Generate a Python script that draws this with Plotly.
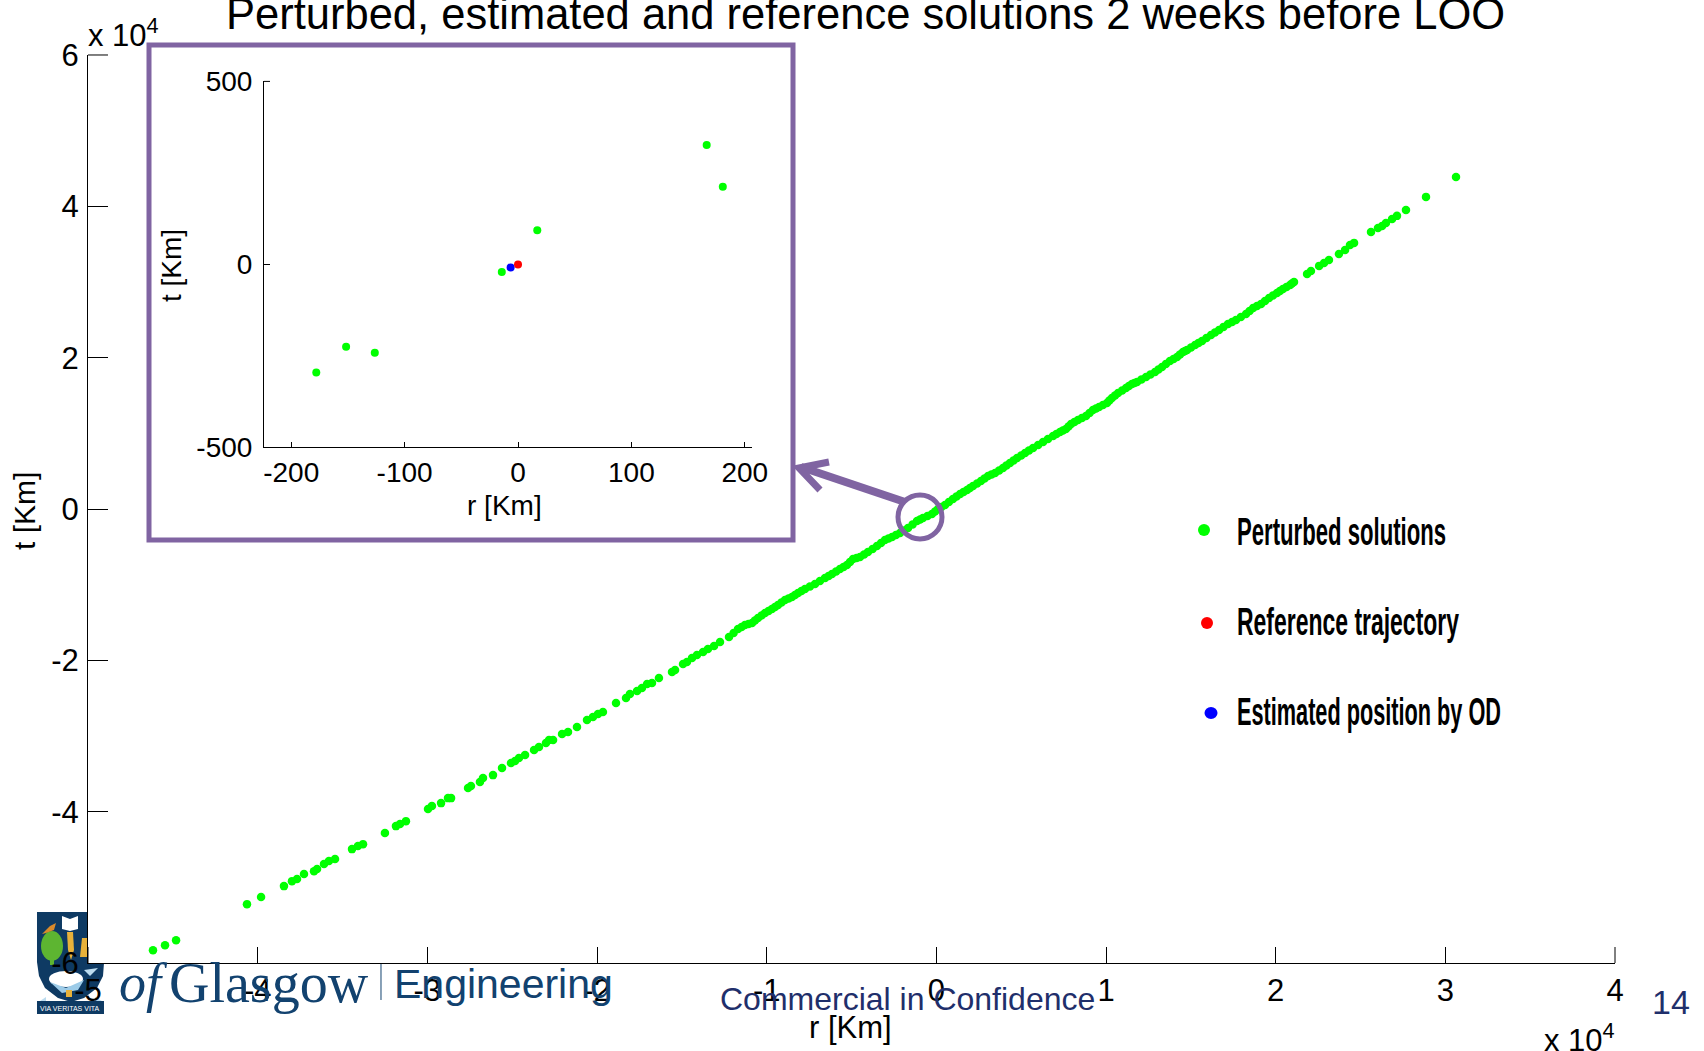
import plotly.graph_objects as go

W, H = 1704, 1051
TITLE = "Perturbed, estimated and reference solutions 2 weeks before LOO"

# Main panel: perturbed solutions, km
perturbed_r = [-46170,-45460,-44810,-40630,-39800,-38450,-37980,-37680,-37270,-36680,-36500,-36090,-35800,-35440,
 -34440,-34090,-33790,-32500,-31850,-31610,-31260,-29960,-29730,-29190,-28780,-28600,-27600,-27430,-26900,-26720,
 -26130,-25600,-25070,-24830,-24600,-24240,-23710,-23420,-23010,-22830,-22590,-22060,-21710,-21180,-20590,-20240,
 -19940,-19650,-18880,-18290,-18060,-17640,-17350,-17050,-16760,-16350,-15580,-15400,-14930,-14700,-14400,-14110,
 -13750,-13460,-13100,-12750,-12220,-11690,-11280,-10860,-10510,-10100,-9690,-9330,-8920,-8510,-8150,-7740,-7150,
 -6560,-6150,-5680,-5270,-4910,-4500,-4030,-3500,-3030,-2610,-2140,-1670,-1140,-790,-260,100,510,980,1400,1810,
 2160,2630,3050,3460,3930,4340,4760,5230,5700,6290,6880,7290,7640,7940,8350,8820,9230,9590,10060,10350,10710,
 11180,11530,11830,12360,12890,13300,13770,14190,14540,14780,15250,15660,16190,16660,17190,17660,18250,18670,
 19140,19610,20080,20430,20850,21080,21850,22080,22560,22850,23140,23730,24090,24380,24620,25620,26030,26270,
 26500,26860,27150,27680,28860,30630]
perturbed_t = [-58300,-57640,-56980,-52220,-51290,-49840,-49180,-48910,-48250,-47860,-47590,-46930,-46530,-46270,
 -44950,-44550,-44290,-42830,-41910,-41640,-41250,-39660,-39260,-38870,-38210,-38210,-36880,-36620,-36090,-35560,
 -35170,-34240,-33580,-33310,-32920,-32520,-31860,-31460,-30930,-30540,-30540,-29740,-29480,-28820,-27890,-27500,
 -27100,-26840,-25650,-24990,-24460,-24060,-23660,-23130,-23000,-22340,-21550,-21280,-20490,-20230,-19700,-19300,
 -18900,-18510,-18110,-17580,-16920,-15860,-15330,-15070,-14410,-13750,-13220,-12690,-12030,-11630,-11100,-10580,
 -9910,-9120,-8590,-7930,-7400,-6610,-6350,-5680,-4890,-4100,-3700,-3170,-2510,-1590,-1190,-660,0,530,1320,1980,
 2510,3040,3700,4360,4760,5420,6080,6740,7400,8060,8860,9650,10180,10580,11240,11770,12300,13090,13490,14010,
 14670,15340,16000,16530,16790,17450,18110,18770,19570,20100,20760,21020,21680,22210,23000,23660,24460,24990,
 25780,26570,27100,27890,28560,29080,29610,30010,31070,31460,32130,32520,32920,33710,34240,34900,35170,36620,
 37150,37410,37810,38340,38740,39530,41250,43890]

# Further solutions in the unbroken central band, km
band_r = [-11950,-11480,-11070,-10690,-10300,-9890,-9510,-9130,-8710,-8330,-7950,-7450,-6860,-6350,-5910,-5470,
 -5090,-4700,-4260,-3760,-3260,-2820,-2380,-1900,-1400,-960,-520,-80,300,740,1190,1600,1980,2400,2840,3250,3700,
 4130,4550,5000,5460,6000,6580,7080,7460,7790,8140,8580,9030,9410,9820,10200,10530,10950,11350,11680,12090,12620,
 13090,13530,13980,14360,14660,15010,15450,15920,16420,16920,17430,17950,18460,18900,19370,19840,20250,20640,20960]
band_t = [-16390,-15600,-15200,-14740,-14080,-13480,-12950,-12360,-11830,-11360,-10840,-10240,-9510,-8850,-8260,-7660,
 -7000,-6480,-6010,-5280,-4490,-3900,-3430,-2840,-2050,-1390,-920,-330,260,920,1650,2240,2770,3370,4030,4560,5090,
 5750,6410,7070,7730,8460,9250,9910,10380,10910,11500,12030,12690,13290,13750,14340,15000,15670,16260,16660,17120,17780,
 18440,19170,19830,20430,20890,21350,21940,22600,23330,24060,24720,25380,26170,26830,27500,28220,28820,29340,29810]

# Inset: zoom near the origin, km
inset_r = [-177.9,-151.6,-126.3,-14.3,17.0,166.4,180.6]
inset_t = [-296,-226,-242,-21.5,93,326,212]
reference_r = [0.0]
reference_t = [-1]
estimated_r = [-6.5]
estimated_t = [-9]

main_x_ticks = [-50000,-40000,-30000,-20000,-10000,0,10000,20000,30000,40000]
main_x_labels = ["-5","-4","-3","-2","-1","0","1","2","3","4"]
main_y_ticks = [-60000,-40000,-20000,0,20000,40000,60000]
main_y_labels = ["-6","-4","-2","0","2","4","6"]
inset_x_ticks = [-200,-100,0,100,200]
inset_x_labels = ["-200","-100","0","100","200"]
inset_y_ticks = [-500,0,500]
inset_y_labels = ["-500","0","500"]
legend_labels = ["Perturbed solutions","Reference trajectory","Estimated position by OD"]

GREEN, RED, BLUE = "#00FF00", "#FF0000", "#0000FF"
PURPLE, NAVY, LOGO = "#8064A2", "#1F2F6B", "#12426F"
SANS = "Liberation Sans"

def px(x): return x / W
def py(y): return 1 - y / H
def path(points, close=True):
    d = "M " + " L ".join(f"{px(x):.5f},{py(y):.5f}" for x, y in points)
    return d + (" Z" if close else "")
def poly(points, fill, line=None, lw=0, close=True, layer="below"):
    return dict(type="path", xref="paper", yref="paper", path=path(points, close), layer=layer,
                fillcolor=fill if close else "rgba(0,0,0,0)",
                line=dict(color=line or "rgba(0,0,0,0)", width=lw))
def oval(cx, cy, rx, ry, fill, line=None, lw=0, layer="below"):
    return dict(type="circle", xref="paper", yref="paper", x0=px(cx-rx), x1=px(cx+rx), y0=py(cy+ry), y1=py(cy-ry),
                fillcolor=fill, line=dict(color=line or "rgba(0,0,0,0)", width=lw), layer=layer)
def text(x, y, s, size, color="black", family=SANS, anchor="center", angle=0, weight=None):
    font = dict(size=size, color=color, family=family)
    if weight: font["weight"] = weight
    return dict(xref="x3", yref="y3", x=x, y=y, text=s, showarrow=False, textangle=angle,
                font=font, xanchor=anchor, yanchor="middle", align="left")

fig = go.Figure()
fig.add_trace(go.Scatter(x=[], y=[], xaxis="x3", yaxis="y3", showlegend=False, hoverinfo="skip"))
fig.add_trace(go.Scatter(x=perturbed_r + band_r, y=perturbed_t + band_t, mode="markers", name="Perturbed solutions",
                         marker=dict(color=GREEN, size=8.5), xaxis="x", yaxis="y", showlegend=False))
fig.add_trace(go.Scatter(x=inset_r, y=inset_t, mode="markers", name="Perturbed solutions (zoom)",
                         marker=dict(color=GREEN, size=8), xaxis="x2", yaxis="y2", showlegend=False))
fig.add_trace(go.Scatter(x=estimated_r, y=estimated_t, mode="markers", name="Estimated position by OD",
                         marker=dict(color=BLUE, size=8), xaxis="x2", yaxis="y2", showlegend=False))
fig.add_trace(go.Scatter(x=reference_r, y=reference_t, mode="markers", name="Reference trajectory",
                         marker=dict(color=RED, size=8), xaxis="x2", yaxis="y2", showlegend=False))

shield = [(37,912),(88,912),(88,963),(104,963),(103,976),(97,988),(84,998),(71,1002),(58,998),(45,988),(39,976),(37,962)]
shapes = [
    poly(shield, "#0E3A63"),
    oval(52,946,11,15,"#5DB531"),
    poly([(50,955),(54,955),(54,965),(50,965)], "#5DB531"),
    poly([(62,916),(70,919),(78,916),(78,929),(70,931),(62,929)], "#FFFFFF"),
    poly([(42,934),(50,926),(56,923),(54,930),(46,933)], "#D98A2B"),
    poly([(67,932),(73,932),(74,950),(71,960),(68,950)], "#E8B23A"),
    poly([(82,938),(87,938),(88,957),(80,957)], "#E8B23A"),
    oval(66,979,17,8,"#FFFFFF"),
    poly([(50,982),(66,988),(84,980),(78,990),(62,993)], "#9CCBE8"),
    poly([(84,970),(98,968),(90,976)], "#BCDCEF"),
    poly([(66,990),(72,990),(72,997),(66,997)], "#E8B23A"),
    poly([(37,1001),(104,1001),(104,1014),(37,1014)], "#0E3A63"),
    poly([(40,1001),(46,997),(46,1001)], "#BCDCEF"),
    poly([(95,1001),(95,997),(102,1001)], "#BCDCEF"),
    poly([(381,964),(381,1000)], "rgba(0,0,0,0)", line=LOGO, lw=1, close=False),
    # Ticks at the very ends of the axes
    poly([(88,55),(108,55)], "rgba(0,0,0,0)", line="black", lw=1, close=False, layer="above"),
    poly([(1615,963),(1615,947)], "rgba(0,0,0,0)", line="black", lw=1, close=False, layer="above"),
    poly([(88,963),(88,947)], "rgba(0,0,0,0)", line="black", lw=1, close=False, layer="above"),
    poly([(264,81.4),(270,81.4)], "rgba(0,0,0,0)", line="black", lw=1, close=False, layer="above"),
    dict(type="rect", xref="paper", yref="paper", x0=px(149), x1=px(793), y0=py(540), y1=py(45),
         line=dict(color=PURPLE, width=5), layer="above"),
    oval(920,517,22,22,"rgba(0,0,0,0)",line=PURPLE,lw=5,layer="above"),
    poly([(905,502),(801,467)], "rgba(0,0,0,0)", line=PURPLE, lw=8, close=False, layer="above"),
    poly([(829,462),(799,468),(820,490)], "rgba(0,0,0,0)", line=PURPLE, lw=7, close=False, layer="above"),
    oval(1204,530,6,6,GREEN,layer="above"),
    oval(1207,623,6,6,RED,layer="above"),
    oval(1211,713,6.5,6,BLUE,layer="above"),
]

annotations = [
    text(865, 14, TITLE, 43.5),
    text(123, 33, "x 10<sup>4</sup>", 31),
    text(1579, 1038, "x 10<sup>4</sup>", 31),
    text(850, 1027, "r [Km]", 31),
    text(24, 511, "t [Km]", 30, angle=-90),
    text(504, 505, "r [Km]", 28),
    text(171, 266, "t [Km]", 28, angle=-90),
    text(1235, 532, legend_labels[0], 38, anchor="left", weight=700),
    text(1235, 622, legend_labels[1], 38, anchor="left", weight=700),
    text(1235, 712, legend_labels[2], 38, anchor="left", weight=700),
    text(143, 983, "<i>of</i>", 54, LOGO, "Liberation Serif"),
    text(269, 983, "Glasgow", 56, LOGO, "Liberation Serif"),
    text(503, 984, "Engineering", 41, LOGO),
    text(70, 1008, "VIA VERITAS VITA", 7, "#FFFFFF"),
    text(907, 999, "Commercial in Confidence", 32, NAVY),
    text(1671, 1002, "14", 34, NAVY),
]

def axis(**kw):
    base = dict(showgrid=False, zeroline=False, showline=True, linecolor="black", linewidth=1, automargin=False,
                ticks="inside", tickcolor="black", tickwidth=1, tickmode="array", fixedrange=True)
    base.update(kw)
    return base

fig.update_layout(
    width=W, height=H, autosize=False, margin=dict(l=0, r=0, t=0, b=0, autoexpand=False),
    paper_bgcolor="white", plot_bgcolor="rgba(0,0,0,0)", showlegend=False,
    xaxis=axis(domain=[px(88), px(1615)], range=[-50000, 40000], anchor="y", tickvals=main_x_ticks,
               ticktext=main_x_labels, ticklen=16, ticklabelstandoff=0, tickfont=dict(size=31, family=SANS, color="black")),
    yaxis=axis(domain=[py(963), py(55)], range=[-60000, 60000], anchor="x", tickvals=main_y_ticks,
               ticktext=main_y_labels, ticklen=20, ticklabelstandoff=2, tickfont=dict(size=31, family=SANS, color="black")),
    xaxis2=axis(domain=[px(264), px(751.6)], range=[-224, 206], anchor="y2", tickvals=inset_x_ticks,
                ticktext=inset_x_labels, ticklen=5, ticklabelstandoff=0, tickfont=dict(size=28, family=SANS, color="black")),
    yaxis2=axis(domain=[py(447), py(81.4)], range=[-500, 500], anchor="x2", tickvals=inset_y_ticks,
                ticktext=inset_y_labels, ticklen=6, ticklabelstandoff=5, tickfont=dict(size=28, family=SANS, color="black")),
    xaxis3=dict(domain=[0, 1], range=[0, W], visible=False, anchor="y3", fixedrange=True, automargin=False),
    yaxis3=dict(domain=[0, 1], range=[H, 0], visible=False, anchor="x3", fixedrange=True, automargin=False),
    shapes=shapes, annotations=annotations,
)

squeeze = """
document.body.style.margin='0';document.body.style.overflow='hidden';
var widths={'Perturbed solutions':209,'Reference trajectory':222,'Estimated position by OD':264};
function squeezeLegend(){document.querySelectorAll('.annotation-text').forEach(function(t){
  var w=widths[t.textContent];
  if(w){t.setAttribute('textLength',w);t.setAttribute('lengthAdjust','spacingAndGlyphs');}
});}
squeezeLegend();setTimeout(squeezeLegend,50);setTimeout(squeezeLegend,300);
"""
fig.write_html("out.html", config=dict(displayModeBar=False), post_script=squeeze)
